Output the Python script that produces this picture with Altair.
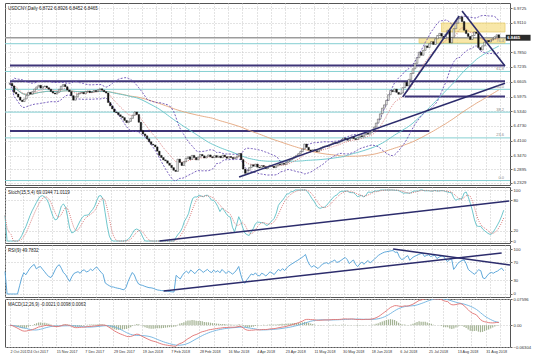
import altair as alt
import numpy as np
import pandas as pd

# ---------------- data ----------------
first_open = 6.6490
closes = [
    6.6530, 6.6420, 6.6150, 6.6080, 6.5950, 6.5820, 6.5760, 6.5870, 6.6020, 6.6150,
    6.6080, 6.6180, 6.6290, 6.6380, 6.6450, 6.6330, 6.6390, 6.6420, 6.6350, 6.6280,
    6.6190, 6.6120, 6.6080, 6.6150, 6.6280, 6.6410, 6.6480, 6.6390, 6.6250, 6.6180,
    6.6010, 6.5820, 6.5960, 6.6080, 6.6120, 6.6150, 6.6090, 6.6180, 6.6210, 6.6140,
    6.6170, 6.6230, 6.6190, 6.6260, 6.6300, 6.6240, 6.6180, 6.6120, 6.5720, 6.5580,
    6.5450, 6.5320, 6.5290, 6.5200, 6.5130, 6.5080, 6.4960, 6.4870, 6.4920, 6.5050,
    6.5180, 6.5320, 6.5210, 6.4880, 6.4520, 6.4390, 6.4310, 6.4180, 6.4060, 6.3950,
    6.3920, 6.3840, 6.3660, 6.3480, 6.3390, 6.3290, 6.3250, 6.3150, 6.3060, 6.2960,
    6.2850, 6.2800, 6.3320, 6.3180, 6.3050, 6.3210, 6.3350, 6.3420, 6.3310, 6.3480,
    6.3390, 6.3290, 6.3410, 6.3520, 6.3460, 6.3370, 6.3440, 6.3500, 6.3420, 6.3380,
    6.3470, 6.3400, 6.3450, 6.3380, 6.3490, 6.3420, 6.3360, 6.3430, 6.3390, 6.3340,
    6.3380, 6.3450, 6.3560, 6.3300, 6.2900, 6.2720, 6.2850, 6.2960, 6.3080, 6.3020,
    6.3110, 6.2980, 6.2950, 6.3050, 6.3000, 6.2920, 6.2990, 6.3060, 6.3020, 6.2960,
    6.3040, 6.3120, 6.3080, 6.3150, 6.3100, 6.3180, 6.3250, 6.3310, 6.3360, 6.3420,
    6.3480, 6.3550, 6.3640, 6.3750, 6.3960, 6.3820, 6.3710, 6.3650, 6.3720, 6.3680,
    6.3640, 6.3720, 6.3800, 6.3850, 6.3880, 6.3860, 6.3920, 6.3960, 6.4020, 6.3980,
    6.4010, 6.4060, 6.4130, 6.4210, 6.4180, 6.4120, 6.4200, 6.4260, 6.4190, 6.4150,
    6.4230, 6.4310, 6.4270, 6.4350, 6.4420, 6.4380, 6.4460, 6.4540, 6.4680, 6.4850,
    6.5020, 6.5240, 6.5480, 6.5620, 6.5810, 6.6050, 6.6230, 6.6180, 6.6290, 6.6150,
    6.6070, 6.6120, 6.6350, 6.6580, 6.6420, 6.6700, 6.6950, 6.7150, 6.7380, 6.7620,
    6.7850, 6.7720, 6.7930, 6.8120, 6.8050, 6.8210, 6.8300, 6.8180, 6.8420, 6.8560,
    6.8650, 6.8530, 6.8440, 6.8620, 6.8780, 6.8250, 6.8480, 6.8850, 6.9080, 6.9270,
    6.9350, 6.9150, 6.8780, 6.8640, 6.8520, 6.8390, 6.8560, 6.8710, 6.8650, 6.8050,
    6.7950, 6.8120, 6.8280, 6.8350, 6.8290, 6.8370, 6.8420, 6.8510, 6.8590, 6.8465,
]

first_label = "2 Oct 2017"
x_labels = ["24 Oct 2017", "15 Nov 2017", "7 Dec 2017", "29 Dec 2017", "19 Jan 2018",
            "7 Feb 2018", "28 Feb 2018", "16 Mar 2018", "4 Apr 2018", "23 Apr 2018",
            "11 May 2018", "30 May 2018", "18 Jun 2018", "6 Jul 2018", "25 Jul 2018",
            "13 Aug 2018", "31 Aug 2018"]

price_ticks = [6.2329, 6.2895, 6.3470, 6.4100, 6.4730, 6.5340, 6.5975, 6.6605,
               6.7235, 6.7850, 6.9110, 6.9725]
fib_levels = [6.2414, 6.4221, 6.5313, 6.6280, 6.7036, 6.8212]
fib_names = ["0.0", "23.6", "38.2", "50.0", "61.8", "76.4"]
sr_levels = [6.7290, 6.6620, 6.5980, 6.4510]
sr_start = [0, 0, 193, 0]
sr_end = [242, 242, 242, 205]
trend_x0 = [112, 192, 221]
trend_y0 = [6.2564, 6.5954, 6.9600]
trend_x1 = [242, 219.6, 242]
trend_y1 = [6.6540, 6.9386, 6.7270]
box_x0 = [211, 200]
box_x1 = [242, 242]
box_lo = [6.8710, 6.8240]
box_hi = [6.9090, 6.8454]
stoch_tl_x = [74, 241.6]
stoch_tl_y = [0, 78.5]
rsi_tl_x0 = [76, 186]
rsi_tl_y0 = [6.4, 100]
rsi_tl_x1 = [238, 242]
rsi_tl_y1 = [91.2, 64.4]
macd_ticks = [-0.06304, 0.0, 0.07596]

main_title = "USDCNY,Daily  6.8722 6.8926 6.8452 6.8465"
stoch_title = "Stoch(15,5,4) 69.0344 71.0119"
rsi_title = "RSI(9) 49.7832"
macd_title = "MACD(12,26,9) -0.0021 0.0098 0.0063"

# ---------------- tables / indicators ----------------
n = len(closes)
df = pd.DataFrame({"i": np.arange(n), "close": closes})
df["open"] = [first_open] + closes[:-1]
c = df["close"]
df["sma50"] = c.rolling(50, min_periods=1).mean()
df["sma100"] = c.rolling(100, min_periods=1).mean()
mid = c.rolling(20, min_periods=1).mean()
sd = c.rolling(20, min_periods=2).std().fillna(0)
df["bbu"] = mid + 2 * sd
df["bbl"] = mid - 2 * sd
df["ema10"] = c.ewm(span=10, adjust=False).mean()

hh = c.rolling(15, min_periods=1).max()
ll = c.rolling(15, min_periods=1).min()
num = (c - ll).rolling(5, min_periods=1).sum()
den = (hh - ll).rolling(5, min_periods=1).sum()
k = (100 * num / den.replace(0, np.nan)).fillna(50)
df["k"] = k
df["d"] = k.rolling(4, min_periods=1).mean()

delta = c.diff().fillna(0)
au = delta.clip(lower=0).ewm(alpha=1 / 9, adjust=False).mean()
ad = (-delta.clip(upper=0)).ewm(alpha=1 / 9, adjust=False).mean()
df["rsi"] = (100 - 100 / (1 + au / ad.replace(0, np.nan))).fillna(50)

ema12 = c.ewm(span=12, adjust=False).mean()
ema26 = c.ewm(span=26, adjust=False).mean()
macd = ema12 - ema26
sig = macd.rolling(9, min_periods=1).mean()
df["macd"] = macd
df["sig"] = sig
df["hist"] = macd - sig

fib_df = pd.DataFrame({"level": fib_levels, "name": fib_names, "xl": 241.5})
sr_df = pd.DataFrame({"level": sr_levels, "x0": sr_start, "x1": sr_end})
tl_df = pd.DataFrame({"x0": trend_x0, "y0": trend_y0, "x1": trend_x1, "y1": trend_y1})
box_df = pd.DataFrame({"x0": box_x0, "x1": box_x1, "lo": box_lo, "hi": box_hi})
last = closes[-1]
cur_df = pd.DataFrame({"x0": [242.4], "x1": [254.5], "lo": [last - 0.0125],
                       "hi": [last + 0.0125], "level": [last], "t": [f"{last:.4f}"]})
stl_df = pd.DataFrame({"x0": [stoch_tl_x[0]], "x1": [stoch_tl_x[1]],
                       "y0": [stoch_tl_y[0]], "y1": [stoch_tl_y[1]]})
rtl_df = pd.DataFrame({"x0": rsi_tl_x0, "y0": rsi_tl_y0, "x1": rsi_tl_x1, "y1": rsi_tl_y1})

# ---------------- scales / axes ----------------
W = 505
GRID = "#c6c6c6"
FS = 4.2
XFS = 3.7
xscale = alt.Scale(domain=[0, 242], nice=False, zero=False)
grid_vals = [0] + [8.6 + 7 * j for j in range(0, 34)]
labs_js = "[" + ",".join(f"'{s}'" for s in x_labels) + "]"
label_expr = (f"datum.value < 1 ? '{first_label}' : "
              f"(round((datum.value - 8.6) / 7) % 2 == 0 ? "
              f"{labs_js}[round((datum.value - 8.6) / 14)] : '')")

xaxis_hidden = alt.Axis(values=grid_vals, labels=False, ticks=False, domain=False,
                        grid=True, gridDash=[1, 2], gridColor=GRID, title=None,
                        minExtent=0, maxExtent=0, labelPadding=0)
xaxis_bottom = alt.Axis(values=grid_vals, labels=True, labelExpr=label_expr,
                        labelFontSize=XFS, labelAlign="left", labelPadding=2,
                        labelOverlap=False, labelFlush=False, labelBound=False,
                        labelColor="#333", ticks=False, domain=False, grid=True,
                        gridDash=[1, 2], gridColor=GRID, title=None)


def yaxis(values, fmt=None, expr=None):
    kw = dict(orient="right", values=values, labelFontSize=FS, tickSize=2,
              tickColor="#666", labelPadding=1, grid=True, gridDash=[1, 2],
              gridColor=GRID, domain=False, title=None, labelColor="#333")
    if fmt:
        kw["format"] = fmt
    if expr:
        kw["labelExpr"] = expr
    return alt.Axis(**kw)


def make_xy(xaxis, yscale, yax):
    def X(f):
        return alt.X(f, type="quantitative", scale=xscale, axis=xaxis)

    def Y(f):
        return alt.Y(f, type="quantitative", scale=yscale, axis=yax)
    return X, Y


def title_layer(text):
    return alt.Chart(pd.DataFrame({"t": [text]})).mark_text(
        align="left", baseline="top", fontSize=4.5, color="#222"
    ).encode(x=alt.value(3), y=alt.value(3), text="t:N")


# ---------------- main price panel ----------------
pscale = alt.Scale(domain=[6.2225, 6.9937], nice=False, zero=False)
X, Y = make_xy(xaxis_hidden, pscale, yaxis(price_ticks, fmt=".4f"))

fib_lines = alt.Chart(fib_df).mark_rule(color="#84cfd2", strokeWidth=1).encode(y=Y("level"))
fib_text = alt.Chart(fib_df).mark_text(align="right", baseline="bottom", fontSize=4,
                                       color="#8a8a8a", dy=-0.5).encode(
    x=X("xl"), y=Y("level"), text="name:N")
sr_lines = alt.Chart(sr_df).mark_rule(color="#3e3578", strokeWidth=2).encode(
    x=X("x0"), x2="x1", y=Y("level"))
boxes = alt.Chart(box_df).mark_rect(fill="#f6e08c", opacity=0.75, stroke="#e2bf45",
                                    strokeWidth=0.8).encode(
    x=X("x0"), x2="x1", y=Y("lo"), y2="hi")
price_line = alt.Chart(cur_df).mark_rule(color="#9c9c9c", strokeWidth=1.3).encode(y=Y("level"))

base = alt.Chart(df)
ma_tan = base.mark_line(color="#e3a57c", strokeWidth=0.9, clip=True).encode(x=X("i"), y=Y("sma100"))
ma_teal = base.mark_line(color="#63c4c8", strokeWidth=0.9, clip=True).encode(x=X("i"), y=Y("sma50"))
bb_u = base.mark_line(color="#6a4fb5", strokeWidth=0.9, strokeDash=[2, 1.5], clip=True).encode(
    x=X("i"), y=Y("bbu"))
bb_l = base.mark_line(color="#6a4fb5", strokeWidth=0.9, strokeDash=[2, 1.5], clip=True).encode(
    x=X("i"), y=Y("bbl"))
ema = base.mark_line(color="#d46a6a", strokeWidth=0.8, strokeDash=[1, 1.2], clip=True).encode(
    x=X("i"), y=Y("ema10"))
candles = base.mark_bar(width=1.6, stroke="#111", strokeWidth=0.4).encode(
    x=X("i"), y=Y("open"), y2="close",
    fill=alt.condition("datum.close >= datum.open", alt.value("white"), alt.value("#111")))
trend = alt.Chart(tl_df).mark_rule(color="#2c2c6c", strokeWidth=1.6, clip=True).encode(
    x=X("x0"), x2="x1", y=Y("y0"), y2="y1")
cur_box = alt.Chart(cur_df).mark_rect(fill="#2b2b2b").encode(
    x=X("x0"), x2="x1", y=Y("lo"), y2="hi")
cur_txt = alt.Chart(cur_df).mark_text(align="left", baseline="middle", fontSize=4.2,
                                      color="white", fontWeight="bold", dx=1.5).encode(
    x=X("x0"), y=Y("level"), text="t:N")

main = alt.layer(fib_lines, sr_lines, boxes, price_line, ma_tan, ma_teal, bb_u, bb_l, ema,
                 candles, trend, fib_text, cur_box, cur_txt,
                 title_layer(main_title)).properties(width=W, height=182)

# ---------------- stochastic ----------------
sscale = alt.Scale(domain=[-3.9, 105.9], nice=False, zero=False)
Xs, Ys = make_xy(xaxis_hidden, sscale, yaxis([0, 20, 80, 100], fmt="d"))
sbase = alt.Chart(df)
stoch = alt.layer(
    sbase.mark_line(color="#5fc0c6", strokeWidth=0.9).encode(x=Xs("i"), y=Ys("k")),
    sbase.mark_line(color="#d05a5a", strokeWidth=0.8, strokeDash=[1, 1.2]).encode(x=Xs("i"), y=Ys("d")),
    alt.Chart(stl_df).mark_rule(color="#2c2c6c", strokeWidth=1.5, clip=True).encode(
        x=Xs("x0"), x2="x1", y=Ys("y0"), y2="y1"),
    title_layer(stoch_title),
).properties(width=W, height=56)

# ---------------- RSI ----------------
rscale = alt.Scale(domain=[-6.7, 108.9], nice=False, zero=False)
Xr, Yr = make_xy(xaxis_hidden, rscale, yaxis([0, 30, 70, 100], fmt="d"))
rsi = alt.layer(
    alt.Chart(df).mark_line(color="#4f9fd6", strokeWidth=0.9).encode(x=Xr("i"), y=Yr("rsi")),
    alt.Chart(rtl_df).mark_rule(color="#2c2c6c", strokeWidth=1.5, clip=True).encode(
        x=Xr("x0"), x2="x1", y=Yr("y0"), y2="y1"),
    title_layer(rsi_title),
).properties(width=W, height=52)

# ---------------- MACD ----------------
mscale = alt.Scale(domain=[macd_ticks[0], macd_ticks[2]], nice=False, zero=False)
Xm, Ym = make_xy(xaxis_bottom, mscale,
                 yaxis(macd_ticks, expr="datum.value == 0 ? '0.00' : format(datum.value, '.5f')"))
mbase = alt.Chart(df)
macd_panel = alt.layer(
    mbase.mark_bar(width=1.2, color="#a3b293", clip=True).encode(
        x=Xm("i"), y=Ym("hist"), y2=alt.datum(0)),
    mbase.mark_line(color="#6fb2e0", strokeWidth=0.9, clip=True).encode(x=Xm("i"), y=Ym("sig")),
    mbase.mark_line(color="#e07272", strokeWidth=0.9, clip=True).encode(x=Xm("i"), y=Ym("macd")),
    title_layer(macd_title),
).properties(width=W, height=48)

chart = alt.vconcat(main, stoch, rsi, macd_panel, spacing=2, bounds="flush").properties(
    padding={"left": 2, "top": 2, "right": 0, "bottom": 0}, background="white"
).configure(font="Liberation Sans").configure_view(stroke="#555", strokeWidth=1)

chart.save("out.html", embed_options={"renderer": "svg", "actions": False})
